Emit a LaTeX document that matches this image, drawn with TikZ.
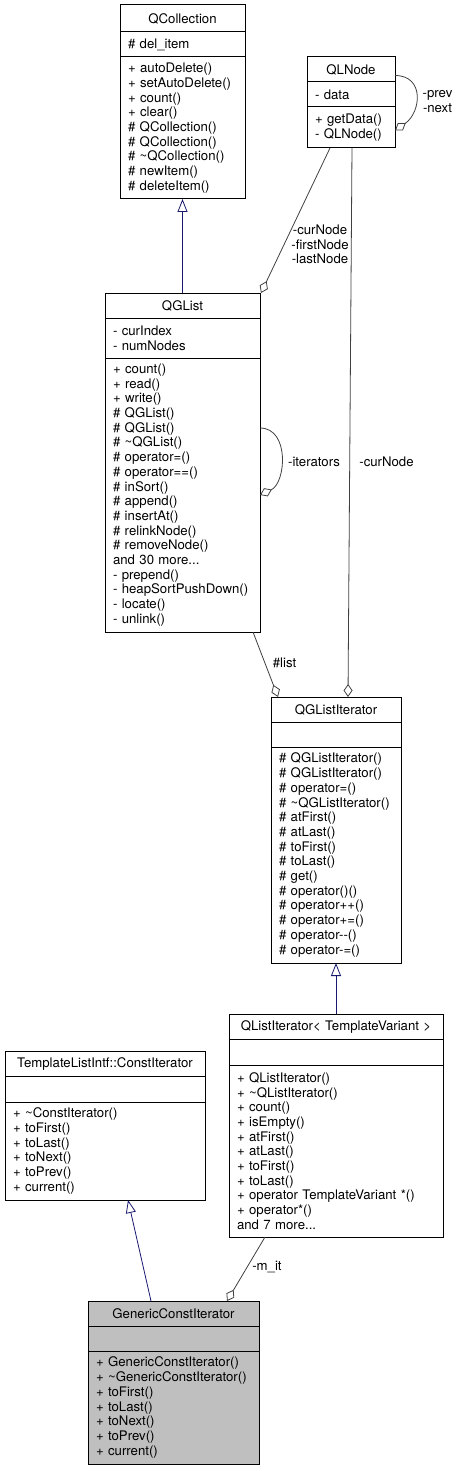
\documentclass[tikz,border=0pt]{standalone}
\usepackage{fontspec}
\setmainfont{TeX Gyre Heros}
\usetikzlibrary{arrows.meta, positioning}
\definecolor{edgegray}{HTML}{404040}
\definecolor{inhblue}{HTML}{191970}
\definecolor{focusgray}{HTML}{BFBFBF}

\begin{document}
\begin{tikzpicture}[x=1pt, y=-1pt,
  font=\fontsize{13.2}{14.7}\selectfont,
  umlpart/.style={draw, line width=1pt, outer sep=0pt, inner xsep=8pt,
    inner ysep=0pt, text width=#1, anchor=north},
  head/.style={umlpart=#1, align=center},
  body/.style={umlpart=#1, align=left},
  lbl/.style={inner sep=0pt, align=center},
  aggr/.style={draw=edgegray, line width=0.8pt,
    -{Diamond[open, length=13pt, width=9pt]}},
  inherit/.style={draw=inhblue, line width=0.8pt,
    -{Triangle[open, length=13pt, width=10pt]}}
 ]
 \useasboundingbox (0,0) rectangle (457,1471);

 % QCollection
 \node [head=109pt, minimum height=27pt] (QCol-t) at (182.5,5) {QCollection};
 \node [body=109pt, minimum height=25pt, below=0pt of QCol-t] (QCol-a) {\# del\_item};
 \node [body=109pt, minimum height=142pt, below=0pt of QCol-a] (QCol-m)
  {+ autoDelete()\\+ setAutoDelete()\\+ count()\\+ clear()\\\# QCollection()\\\# QCollection()\\\# \textasciitilde QCollection()\\\# newItem()\\\# deleteItem()};

 % QLNode
 \node [head=72pt, minimum height=25pt] (QLNode-t) at (351,57) {QLNode};
 \node [body=72pt, minimum height=25pt, below=0pt of QLNode-t] (QLNode-a) {- data};
 \node [body=72pt, minimum height=41pt, below=0pt of QLNode-a] (QLNode-m) {+ getData()\\- QLNode()};

 % QGList
 \node [head=139pt, minimum height=25pt] (QGList-t) at (182.5,293) {QGList};
 \node [body=139pt, minimum height=40pt, below=0pt of QGList-t] (QGList-a) {- curIndex\\- numNodes};
 \node [body=139pt, minimum height=274pt, below=0pt of QGList-a] (QGList-m)
  {+ count()\\+ read()\\+ write()\\\# QGList()\\\# QGList()\\\# \textasciitilde QGList()\\\# operator=()\\\# operator==()\\\# inSort()\\\# append()\\\# insertAt()\\\# relinkNode()\\\# removeNode()\\and 30 more...\\- prepend()\\- heapSortPushDown()\\- locate()\\- unlink()};

 % QGListIterator
 \node [head=114pt, minimum height=25pt] (QGLI-t) at (336,697) {QGListIterator};
 \node [body=114pt, minimum height=25pt, below=0pt of QGLI-t] (QGLI-a) {};
 \node [body=114pt, minimum height=216pt, below=0pt of QGLI-a] (QGLI-m)
  {\# QGListIterator()\\\# QGListIterator()\\\# operator=()\\\# \textasciitilde QGListIterator()\\\# atFirst()\\\# atLast()\\\# toFirst()\\\# toLast()\\\# get()\\\# operator()()\\\# operator++()\\\# operator+=()\\\# operator-{}-()\\\# operator-=()};

 % QListIterator< TemplateVariant >
 \node [head=198pt, minimum height=25pt] (QLI-t) at (336,1014) {QListIterator< TemplateVariant >};
 \node [body=198pt, minimum height=26pt, below=0pt of QLI-t] (QLI-a) {};
 \node [body=198pt, minimum height=172pt, below=0pt of QLI-a] (QLI-m)
  {+ QListIterator()\\+ \textasciitilde QListIterator()\\+ count()\\+ isEmpty()\\+ atFirst()\\+ atLast()\\+ toFirst()\\+ toLast()\\+ operator TemplateVariant *()\\+ operator*()\\and 7 more...};

 % TemplateListIntf::ConstIterator
 \node [head=184pt, minimum height=25pt] (CIt-t) at (105,1051) {TemplateListIntf::ConstIterator};
 \node [body=184pt, minimum height=26pt, below=0pt of CIt-t] (CIt-a) {};
 \node [body=184pt, minimum height=98pt, below=0pt of CIt-a] (CIt-m)
  {+ \textasciitilde ConstIterator()\\+ toFirst()\\+ toLast()\\+ toNext()\\+ toPrev()\\+ current()};

 % GenericConstIterator
 \node [head=155pt, minimum height=25pt, fill=focusgray] (GCI-t) at (173.5,1301) {GenericConstIterator};
 \node [body=155pt, minimum height=25pt, fill=focusgray, below=0pt of GCI-t] (GCI-a) {};
 \node [body=155pt, minimum height=113pt, fill=focusgray, below=0pt of GCI-a] (GCI-m)
  {+ GenericConstIterator()\\+ \textasciitilde GenericConstIterator()\\+ toFirst()\\+ toLast()\\+ toNext()\\+ toPrev()\\+ current()};

 \draw [inherit] (QGList-t.north) -- (QCol-m.south);
 \draw [inherit] (QLI-t.north) -- (QGLI-m.south);
 \draw [inherit] ([xshift=-22.5pt]GCI-t.north) -- ([xshift=23pt]CIt-m.south);

 \draw [aggr] ([yshift=-6pt]QLNode-t.east) .. controls +(30,0) and +(26,-18) .. ([yshift=-3pt]QLNode-m.east);
 \draw [aggr] ([xshift=-21pt]QLNode-m.south) -- ([xshift=1pt]QGList-t.north east);
 \draw [aggr] ([xshift=1pt]QLNode-m.south) -- ([xshift=12pt]QGLI-t.north);
 \draw [aggr] ([yshift=67pt]QGList-m.east) .. controls +(30,0) and +(26,-12) .. (QGList-m.east);
 \draw [aggr] ([xshift=70.5pt]QGList-m.south) -- ([xshift=-58pt]QGLI-t.north);
 \draw [aggr] ([xshift=-71pt]QLI-m.south) -- ([xshift=53.5pt]GCI-t.north);

 \node [lbl] (lPrevNext) at (437.5,101.5) {-prev\\-next};
 \node [lbl] (lLinks) at (320,244.5) {-curNode\\-firstNode\\-lastNode};
 \node [lbl] (lIter) at (314,462) {-iterators};
 \node [lbl] (lCurNode) at (386.5,462) {-curNode};
 \node [lbl] (lList) at (284.5,663) {\#list};
 \node [lbl] (lMit) at (267,1267) {-m\_it};
\end{tikzpicture}
\end{document}
